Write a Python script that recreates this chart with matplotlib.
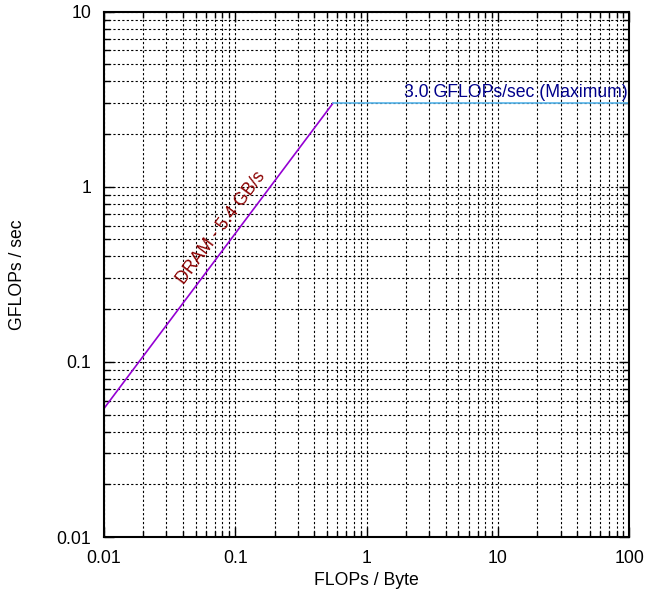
import matplotlib
matplotlib.use("Agg")
import matplotlib.pyplot as plt
import numpy as np

# Roofline data
DRAM_BW = 5.4        # GB/s
PEAK = 3.0           # GFLOPs/sec
X_RANGE = [0.01, 100]
Y_RANGE = [0.01, 10]

ridge = PEAK / DRAM_BW
bw_x = [X_RANGE[0], ridge]
bw_y = [DRAM_BW * X_RANGE[0], PEAK]
peak_x = [ridge, X_RANGE[1]]
peak_y = [PEAK, PEAK]

plt.rcParams.update({
    "font.family": ["Liberation Sans", "DejaVu Sans"],
    "font.size": 12.7,
})

fig = plt.figure(figsize=(6.61, 5.93), dpi=100)
ax = fig.add_axes([0.157, 0.0944, 0.795, 0.886])

ax.plot(bw_x, bw_y, color="#9400d3", lw=1.2)
ax.plot(peak_x, peak_y, color="#56b4e9", lw=1.2)

ax.set_xscale("log")
ax.set_yscale("log")
ax.set_xlim(*X_RANGE)
ax.set_ylim(*Y_RANGE)

ax.set_xticks([0.01, 0.1, 1, 10, 100])
ax.set_xticklabels(["0.01", "0.1", "1", "10", "100"])
ax.set_yticks([0.01, 0.1, 1, 10])
ax.set_yticklabels(["0.01", "0.1", "1", "10"])

ax.grid(True, which="both", color="black", ls=(0, (2, 2)), lw=0.8)
ax.tick_params(which="both", direction="in", top=True, right=True, pad=9)
ax.tick_params(which="major", length=7, width=1)
ax.tick_params(which="minor", length=4, width=1)
for s in ax.spines.values():
    s.set_linewidth(1.5)

# label follows the bandwidth slope on screen
pos = ax.get_position()
fig_w, fig_h = fig.get_size_inches()
dx = pos.width * fig_w / np.log10(X_RANGE[1] / X_RANGE[0])
dy = pos.height * fig_h / np.log10(Y_RANGE[1] / Y_RANGE[0])
angle = np.degrees(np.arctan2(dy, dx))

ax.text(0.079, 0.58, f"DRAM - {DRAM_BW} GB/s", color="#8b0000",
        rotation=angle, ha="center", va="center", rotation_mode="anchor")
ax.text(98, 3.1, f"{PEAK} GFLOPs/sec (Maximum)", color="#00008b",
        ha="right", va="bottom")

ax.set_xlabel("FLOPs / Byte", va="center")
ax.set_ylabel("GFLOPs / sec", va="center")
ax.xaxis.set_label_coords(0.5, -0.082)
ax.yaxis.set_label_coords(-0.164, 0.5)

fig.savefig("out.png", dpi=100)
